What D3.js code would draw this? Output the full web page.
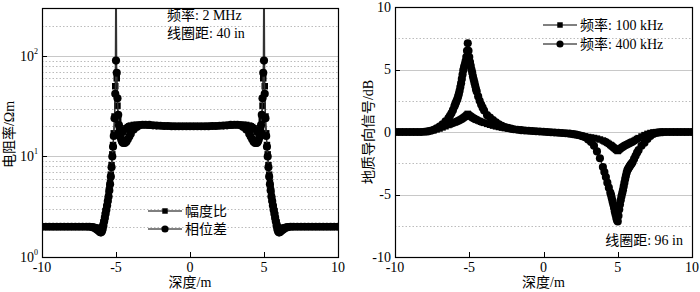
<!DOCTYPE html>
<html lang="zh">
<head>
<meta charset="UTF-8">
<title>电阻率与地质导向信号</title>
<script src="https://d3js.org/d3.v7.min.js"></script>
<style>
  body { margin: 0; background: #fff; }
  text { font-family: "Liberation Serif", "Noto Sans CJK SC", serif; fill: #000; }
</style>
</head>
<body>
<script>
// ---- left panel: resistivity curves, 2 MHz, 40 in ----
const depthL = [
  -10,-9.75,-9.5,-9.25,-9,-8.75,-8.5,-8.25,-8,-7.75,-7.5,-7.25,-7,
  -6.8,-6.6,-6.5,-6.4,-6.3,-6.2,-6.1,
  -6.05,-6,-5.95,-5.9,-5.85,-5.8,-5.75,-5.7,-5.65,-5.6,-5.55,-5.5,-5.45,-5.4,-5.35,-5.3,
  -5.25,-5.2,-5.15,-5.1,-5.05,-5,-4.95,-4.9,-4.85,-4.8,-4.75,-4.7,-4.65,-4.6,-4.55,-4.5,
  -4.4,-4.3,-4.2,-4.1,-4,
  -3.8,-3.6,-3.4,-3.2,-3,
  -2.75,-2.5,-2.25,-2,-1.75,-1.5,-1.25,-1,-0.75,-0.5,-0.25,0,
  0.25,0.5,0.75,1,1.25,1.5,1.75,2,2.25,2.5,2.75,
  3,3.2,3.4,3.6,3.8,
  4,4.1,4.2,4.3,4.4,
  4.5,4.55,4.6,4.65,4.7,4.75,4.8,4.85,4.9,4.95,5,5.05,5.1,5.15,5.2,5.25,
  5.3,5.35,5.4,5.45,5.5,5.55,5.6,5.65,5.7,5.75,5.8,5.85,5.9,5.95,6,6.05,
  6.1,6.2,6.3,6.4,6.5,6.6,6.8,
  7,7.25,7.5,7.75,8,8.25,8.5,8.75,9,9.25,9.5,9.75,10
];
const ampRatio = [
  2,2,2,2,2,2,2,2,2,2,2,2,2,
  2,1.99,1.98,1.97,1.95,1.92,1.9,
  1.9,1.92,1.97,2.05,2.2,2.4,2.6,2.85,3.1,3.4,3.75,4.2,4.8,5.5,6.6,8.2,
  10.5,13,17,25,50,1500,60,32,23,19.5,18.2,17.6,17.4,17.4,17.6,17.9,
  18.5,19.1,19.6,20,20.3,
  20.6,20.7,20.7,20.6,20.5,
  20.4,20.3,20.2,20.2,20.1,20.1,20.1,20,20,20,20,20,
  20,20,20,20,20.1,20.1,20.1,20.2,20.2,20.3,20.4,
  20.5,20.6,20.7,20.7,20.6,
  20.3,20,19.6,19.1,18.5,
  17.9,17.6,17.4,17.4,17.6,18.2,19.5,23,32,60,1500,50,25,17,13,10.5,
  8.2,6.6,5.5,4.8,4.2,3.75,3.4,3.1,2.85,2.6,2.4,2.2,2.05,1.97,1.92,1.9,
  1.9,1.92,1.95,1.97,1.98,1.99,2,
  2,2,2,2,2,2,2,2,2,2,2,2,2
];
const phaseDiff = [
  2,2,2,2,2,2,2,2,2,2,2,2,2,
  2,1.98,1.96,1.93,1.88,1.83,1.78,
  1.76,1.76,1.8,1.9,2.05,2.25,2.45,2.7,2.95,3.25,3.6,4,4.6,5.3,6.3,7.8,
  10,12.5,16,24,42,90,68,38,26,20.5,17.5,15.8,14.8,14.2,13.8,13.6,
  13.6,14,14.8,15.8,16.8,
  18.5,19.7,20.4,20.7,20.7,
  20.6,20.4,20.3,20.2,20.1,20.1,20,20,20,20,20,20,
  20,20,20,20,20,20.1,20.1,20.2,20.3,20.4,20.6,
  20.7,20.7,20.4,19.7,18.5,
  16.8,15.8,14.8,14,13.6,
  13.6,13.8,14.2,14.8,15.8,17.5,20.5,26,38,68,90,42,24,16,12.5,10,
  7.8,6.3,5.3,4.6,4,3.6,3.25,2.95,2.7,2.45,2.25,2.05,1.9,1.8,1.76,1.76,
  1.78,1.83,1.88,1.93,1.96,1.98,2,
  2,2,2,2,2,2,2,2,2,2,2,2,2
];
const resMajor = [10, 100];
const resMinor = [2,3,4,5,6,7,8,9,20,30,40,50,60,70,80,90,200];
const resTickLabels = [[1, "0"], [10, "1"], [100, "2"]];

// ---- right panel: geosteering signal, 96 in ----
const depthR = [
  -10,-9.75,-9.5,-9.25,-9,-8.75,-8.5,-8.25,-8,
  -7.8,-7.6,-7.4,-7.2,-7,-6.8,-6.6,-6.4,
  -6.3,-6.2,-6.1,
  -6,-5.95,-5.9,-5.85,-5.8,-5.75,-5.7,-5.65,-5.6,-5.55,-5.5,-5.45,-5.4,-5.35,-5.3,-5.25,
  -5.2,-5.15,-5.1,-5.05,-5,-4.95,-4.9,-4.85,-4.8,-4.75,-4.7,-4.65,-4.6,-4.55,-4.5,
  -4.4,-4.3,-4.2,-4.1,-4,
  -3.8,-3.6,-3.4,-3.2,-3,-2.8,-2.6,-2.4,-2.2,-2,
  -1.75,-1.5,-1.25,-1,-0.75,-0.5,-0.25,0,
  0.25,0.5,0.75,1,1.25,1.5,1.75,
  2,2.2,2.4,2.6,2.8,3,3.2,3.4,3.6,3.8,
  4,4.1,4.2,4.3,4.4,
  4.5,4.55,4.6,4.65,4.7,4.75,4.8,4.85,4.9,4.95,5,5.05,5.1,5.15,5.2,
  5.25,5.3,5.35,5.4,5.45,5.5,5.55,5.6,5.65,5.7,5.75,5.8,5.85,5.9,5.95,6,
  6.1,6.2,6.3,
  6.4,6.6,6.8,7,7.2,7.4,7.6,7.8,
  8,8.25,8.5,8.75,9,9.25,9.5,9.75,10
];
const sig100k = [
  0,0,0,0,0,0,0,0,0.02,
  0.05,0.09,0.14,0.21,0.28,0.37,0.46,0.56,
  0.61,0.66,0.71,
  0.76,0.78,0.81,0.84,0.86,0.89,0.92,0.95,0.98,1.01,1.05,1.09,1.13,1.17,1.22,1.27,
  1.32,1.38,1.45,1.39,1.34,1.29,1.25,1.21,1.17,1.13,1.1,1.06,1.03,1,0.97,
  0.92,0.87,0.82,0.77,0.73,
  0.65,0.58,0.51,0.45,0.4,0.35,0.31,0.28,0.25,0.22,
  0.18,0.15,0.12,0.1,0.08,0.06,0.04,0.02,
  0,-0.02,-0.04,-0.06,-0.08,-0.1,-0.13,
  -0.17,-0.21,-0.25,-0.3,-0.35,-0.4,-0.44,-0.48,-0.53,-0.6,
  -0.68,-0.74,-0.8,-0.87,-0.95,
  -1.03,-1.07,-1.12,-1.17,-1.22,-1.27,-1.32,-1.37,-1.42,-1.47,-1.52,-1.46,-1.4,-1.35,-1.3,
  -1.26,-1.22,-1.18,-1.14,-1.1,-1.07,-1.04,-1.01,-0.98,-0.95,-0.92,-0.89,-0.86,-0.83,-0.8,-0.77,
  -0.71,-0.64,-0.56,
  -0.49,-0.36,-0.25,-0.15,-0.08,-0.03,-0.01,0,
  0,0,0,0,0,0,0,0,0
];
const sig400k = [
  0,0,0,0,0,0,0,0,0.02,
  0.05,0.1,0.18,0.3,0.44,0.62,0.85,1.12,
  1.3,1.5,1.75,
  2.05,2.2,2.35,2.5,2.65,2.85,3.05,3.3,3.6,3.9,4.25,4.6,4.95,5.2,5.4,5.65,
  6,6.5,7.1,6.5,6,5.6,5.3,5,4.75,4.45,4.2,3.95,3.7,3.45,3.25,
  2.85,2.5,2.2,1.95,1.72,
  1.35,1.15,0.95,0.78,0.62,0.5,0.4,0.33,0.27,0.22,
  0.18,0.15,0.12,0.1,0.08,0.06,0.04,0.02,
  0,-0.02,-0.04,-0.06,-0.08,-0.1,-0.13,
  -0.17,-0.21,-0.26,-0.33,-0.42,-0.6,-0.8,-1.1,-1.55,-2.1,
  -2.8,-3.2,-3.6,-4.05,-4.45,
  -4.85,-5.05,-5.3,-5.55,-5.8,-6.05,-6.35,-6.6,-6.85,-7.05,-7.15,-6.7,-6.2,-5.8,-5.45,
  -5.15,-4.9,-4.65,-4.35,-4.05,-3.75,-3.5,-3.25,-3.05,-2.95,-2.85,-2.75,-2.65,-2.57,-2.5,-2.4,
  -2.15,-1.9,-1.65,
  -1.45,-1.1,-0.85,-0.55,-0.32,-0.15,-0.07,-0.03,
  -0.01,0,0,0,0,0,0,0,0
];
const sigMajor = [-5, 0, 5];
const sigMinor = [-7.5, -2.5, 2.5, 7.5];
const sigTicks = [-10, -5, 0, 5, 10];
const depthTicks = [-10, -5, 0, 5, 10];

const W = 700, H = 292;
const svg = d3.select("body").append("svg").attr("width", W).attr("height", H);

const boxL = {x0: 42, x1: 338, y0: 8, y1: 257};
const boxR = {x0: 395, x1: 692, y0: 7, y1: 257};

const xL = d3.scaleLinear().domain([-10, 10]).range([boxL.x0, boxL.x1]);
const yL = d3.scaleLog().domain([1, 300]).range([boxL.y1, boxL.y0]);
const xR = d3.scaleLinear().domain([-10, 10]).range([boxR.x0, boxR.x1]);
const yR = d3.scaleLinear().domain([-10, 10]).range([boxR.y1, boxR.y0]);

const px = v => Math.round(v) + 0.5;
const squareSym = d3.symbol(d3.symbolSquare, 42);
const circleSym = d3.symbol(d3.symbolCircle, 52);

function grid(box, y, major, minor) {
  const g = svg.append("g");
  g.selectAll("line.minor").data(minor).join("line")
    .attr("x1", box.x0).attr("x2", box.x1)
    .attr("y1", d => px(y(d))).attr("y2", d => px(y(d)))
    .attr("stroke", "#bcbcbc").attr("stroke-dasharray", "1.5,2");
  g.selectAll("line.major").data(major).join("line")
    .attr("x1", box.x0).attr("x2", box.x1)
    .attr("y1", d => px(y(d))).attr("y2", d => px(y(d)))
    .attr("stroke", "#c8c8c8").attr("stroke-width", 1);
}

function series(id, xs, ys, x, y, shape) {
  const g = svg.append("g").attr("clip-path", `url(#${id})`);
  const pts = xs.map((d, i) => [x(d), y(ys[i])]);
  g.append("path").attr("d", d3.line()(pts))
    .attr("fill", "none").attr("stroke", "#333").attr("stroke-width", 1.3);
  g.selectAll("path.m").data(pts).join("path")
    .attr("transform", p => `translate(${p[0]},${p[1]})`)
    .attr("d", shape === "square" ? squareSym : circleSym).attr("fill", "#000");
}

function frame(box, x, y, yTicks) {
  const g = svg.append("g");
  g.append("rect")
    .attr("x", box.x0 + 0.5).attr("y", box.y0 + 0.5)
    .attr("width", box.x1 - box.x0).attr("height", box.y1 - box.y0)
    .attr("fill", "none").attr("stroke", "#000").attr("stroke-width", 1.2);
  g.selectAll("line.xt").data(depthTicks).join("line")
    .attr("x1", d => px(x(d))).attr("x2", d => px(x(d)))
    .attr("y1", box.y1).attr("y2", box.y1 - 5)
    .attr("stroke", "#000");
  g.selectAll("line.yt").data(yTicks).join("line")
    .attr("x1", box.x0).attr("x2", box.x0 + 5)
    .attr("y1", d => px(y(d))).attr("y2", d => px(y(d)))
    .attr("stroke", "#000");
  g.selectAll("text.xl").data(depthTicks).join("text")
    .attr("x", d => x(d)).attr("y", 272)
    .attr("text-anchor", "middle").attr("font-size", 14)
    .text(d => d);
  g.append("text")
    .attr("x", (box.x0 + box.x1) / 2).attr("y", 287)
    .attr("text-anchor", "middle").attr("font-size", 14)
    .text("深度/m");
}

function legendRow(x, y, shape, label) {
  const g = svg.append("g");
  g.append("line").attr("x1", x).attr("x2", x + 34)
    .attr("y1", y).attr("y2", y).attr("stroke", "#000");
  g.append("path").attr("transform", `translate(${x + 17},${y})`)
    .attr("d", shape === "square" ? d3.symbol(d3.symbolSquare, 30) : d3.symbol(d3.symbolCircle, 40));
  g.append("text").attr("x", x + 37).attr("y", y)
    .attr("dominant-baseline", "central").attr("font-size", 14)
    .text(label);
}

// clip paths
const defs = svg.append("defs");
[["clipL", boxL], ["clipR", boxR]].forEach(([id, b]) => {
  defs.append("clipPath").attr("id", id).append("rect")
    .attr("x", b.x0).attr("y", b.y0)
    .attr("width", b.x1 - b.x0).attr("height", b.y1 - b.y0);
});

// left panel
grid(boxL, yL, resMajor, resMinor);
series("clipL", depthL, ampRatio, xL, yL, "square");
series("clipL", depthL, phaseDiff, xL, yL, "circle");
frame(boxL, xL, yL, [10, 100]);

const yLab = svg.append("g");
resTickLabels.forEach(([v, e]) => {
  const t = yLab.append("text")
    .attr("x", 38).attr("y", yL(v) + 5)
    .attr("text-anchor", "end").attr("font-size", 14);
  t.append("tspan").text("10");
  t.append("tspan").attr("dy", -7).attr("font-size", 8).text(e);
});
svg.append("text")
  .attr("transform", `translate(9,${(boxL.y0 + boxL.y1) / 2 + 2}) rotate(-90)`)
  .attr("text-anchor", "middle").attr("dominant-baseline", "central")
  .attr("font-size", 14).text("电阻率/Ωm");

svg.append("text").attr("x", 167).attr("y", 20).attr("font-size", 14).text("频率: 2 MHz");
svg.append("text").attr("x", 167).attr("y", 38).attr("font-size", 14).text("线圈距: 40 in");
legendRow(148, 211, "square", "幅度比");
legendRow(148, 229, "circle", "相位差");

// right panel
grid(boxR, yR, sigMajor, sigMinor);
series("clipR", depthR, sig100k, xR, yR, "square");
series("clipR", depthR, sig400k, xR, yR, "circle");
frame(boxR, xR, yR, sigTicks);

svg.append("g").selectAll("text").data(sigTicks).join("text")
  .attr("x", 391).attr("y", d => yR(d))
  .attr("text-anchor", "end").attr("dominant-baseline", "central")
  .attr("font-size", 14).text(d => d);
svg.append("text")
  .attr("transform", `translate(368,${(boxR.y0 + boxR.y1) / 2}) rotate(-90)`)
  .attr("text-anchor", "middle").attr("dominant-baseline", "central")
  .attr("font-size", 14).text("地质导向信号/dB");

legendRow(543, 25, "square", "频率: 100 kHz");
legendRow(543, 44, "circle", "频率: 400 kHz");
svg.append("text").attr("x", 683).attr("y", 245)
  .attr("text-anchor", "end").attr("font-size", 14).text("线圈距: 96 in");
</script>
</body>
</html>
